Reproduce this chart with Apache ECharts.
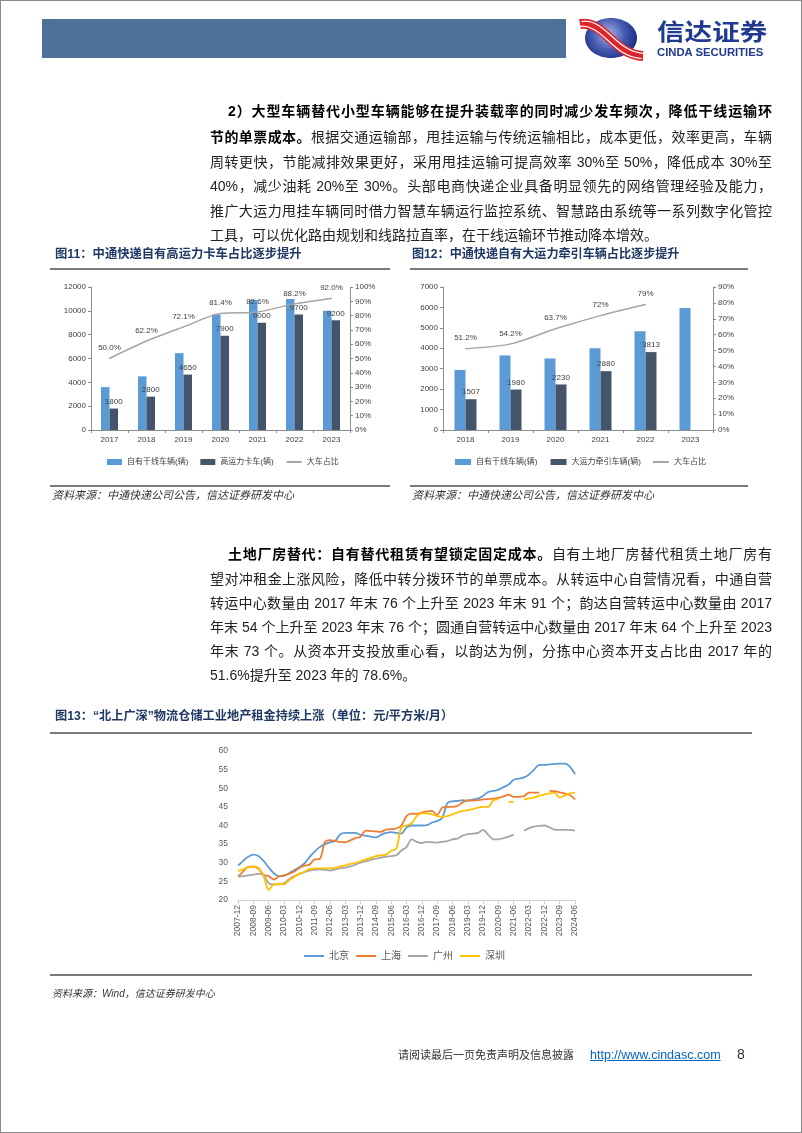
<!DOCTYPE html>
<html><head><meta charset="utf-8">
<script src="https://cdn.jsdelivr.net/npm/echarts/dist/echarts.min.js"></script>
<style>
html,body{margin:0;padding:0;background:#fff;}
#page{position:relative;width:802px;height:1133px;overflow:hidden;background:#fff;font-family:"Liberation Sans","Noto Sans CJK SC",sans-serif;}
#frame{position:absolute;left:0;top:0;width:800px;height:1131px;border:1px solid #8a8a8a;}
#chart{position:absolute;left:0;top:0;width:802px;height:1133px;}
.t{position:absolute;white-space:nowrap;}
.ln{position:absolute;left:210px;width:562px;font-size:14px;line-height:20px;height:20px;text-align:justify;text-align-last:justify;color:#222;}
.ln.ind{left:228px;width:544px;}
.ln.last{text-align-last:left;}
b{font-weight:700;color:#000;}
.ft{position:absolute;font-weight:700;color:#1f3864;white-space:nowrap;}
.rule{position:absolute;height:2px;background:#7a7a7a;}
.src{position:absolute;font-style:italic;color:#333;white-space:nowrap;}
</style></head>
<body><div id="page">
<div id="chart"></div>
<div id="frame"></div>
<div style="position:absolute;left:42px;top:19px;width:524px;height:39px;background:#4f7199;"></div>
<div class="t" style="left:657px;top:16px;font-size:23px;line-height:28px;font-weight:700;color:#1f3a8f;font-family:'Noto Sans CJK SC';transform:scaleX(1.2);transform-origin:0 0;">信达证券</div>
<div class="t" style="left:657px;top:46px;font-size:11.3px;line-height:13px;font-weight:700;color:#1f3a8f;">CINDA SECURITIES</div>

<div class="ln ind" style="top:101px;"><b>2）大型车辆替代小型车辆能够在提升装载率的同时减少发车频次，降低干线运输环</b></div>
<div class="ln" style="top:127px;"><b>节的单票成本。</b>根据交通运输部，甩挂运输与传统运输相比，成本更低，效率更高，车辆</div>
<div class="ln" style="top:152px;">周转更快，节能减排效果更好，采用甩挂运输可提高效率 30%至 50%，降低成本 30%至</div>
<div class="ln" style="top:176px;">40%，减少油耗 20%至 30%。头部电商快递企业具备明显领先的网络管理经验及能力，</div>
<div class="ln" style="top:201px;">推广大运力甩挂车辆同时借力智慧车辆运行监控系统、智慧路由系统等一系列数字化管控</div>
<div class="ln last" style="top:225px;">工具，可以优化路由规划和线路拉直率，在干线运输环节推动降本增效。</div>

<div class="ft" style="left:55px;top:246px;font-size:12.3px;line-height:16px;">图11：中通快递自有高运力卡车占比逐步提升</div>
<div class="rule" style="left:50px;top:268px;width:340px;"></div>
<div class="rule" style="left:50px;top:485px;width:340px;"></div>
<div class="src" style="left:52px;top:488px;font-size:11px;line-height:14px;">资料来源：中通快递公司公告，信达证券研发中心</div>

<div class="ft" style="left:412px;top:246px;font-size:12.1px;line-height:16px;">图12：中通快递自有大运力牵引车辆占比逐步提升</div>
<div class="rule" style="left:410px;top:268px;width:338px;"></div>
<div class="rule" style="left:410px;top:485px;width:338px;"></div>
<div class="src" style="left:412px;top:488px;font-size:11px;line-height:14px;">资料来源：中通快递公司公告，信达证券研发中心</div>

<div class="ln ind" style="top:544px;"><b>土地厂房替代：自有替代租赁有望锁定固定成本。</b>自有土地厂房替代租赁土地厂房有</div>
<div class="ln" style="top:569px;">望对冲租金上涨风险，降低中转分拨环节的单票成本。从转运中心自营情况看，中通自营</div>
<div class="ln" style="top:593px;">转运中心数量由 2017 年末 76 个上升至 2023 年末 91 个；韵达自营转运中心数量由 2017</div>
<div class="ln" style="top:617px;">年末 54 个上升至 2023 年末 76 个；圆通自营转运中心数量由 2017 年末 64 个上升至 2023</div>
<div class="ln" style="top:641px;">年末 73 个。从资本开支投放重心看，以韵达为例，分拣中心资本开支占比由 2017 年的</div>
<div class="ln last" style="top:665px;">51.6%提升至 2023 年的 78.6%。</div>

<div class="ft" style="left:55px;top:709px;font-size:12.2px;line-height:15px;">图13：“北上广深”物流仓储工业地产租金持续上涨（单位：元/平方米/月）</div>
<div class="rule" style="left:50px;top:732px;width:702px;"></div>
<div class="rule" style="left:50px;top:974px;width:702px;"></div>
<div class="src" style="left:52px;top:987px;font-size:10px;line-height:13px;">资料来源：Wind，信达证券研发中心</div>

<div class="t" style="left:398px;top:1047px;font-size:11px;line-height:16px;color:#333;">请阅读最后一页免责声明及信息披露</div>
<div class="t" style="left:590px;top:1047px;font-size:12.5px;line-height:16px;color:#0563c1;text-decoration:underline;">http://www.cindasc.com</div>
<div class="t" style="left:737px;top:1046px;font-size:14px;line-height:17px;color:#333;">8</div>
</div>
<script>
// ---- Figure 11 ----
const years11 = ['2017','2018','2019','2020','2021','2022','2023'];
const trunk11 = [3600, 4500, 6450, 9700, 10900, 11000, 10000];
const highCap11 = [1800, 2800, 4650, 7900, 9000, 9700, 9200];
const ratio11 = [50.0, 62.2, 72.1, 81.4, 82.6, 88.2, 92.0];
// ---- Figure 12 ----
const years12 = ['2018','2019','2020','2021','2022','2023'];
const trunk12 = [2940, 3650, 3500, 4000, 4830, 5970];
const tractor12 = [1507, 1980, 2230, 2880, 3813, null];
const ratio12 = [51.2, 54.2, 63.7, 72, 79, null];
// ---- Figure 13 ----
const quarters13 = ['2007-12','2008-03','2008-06','2008-09','2008-12','2009-03','2009-06','2009-09','2009-12',
 '2010-03','2010-06','2010-09','2010-12','2011-03','2011-06','2011-09','2011-12','2012-03','2012-06','2012-09','2012-12',
 '2013-03','2013-06','2013-09','2013-12','2014-03','2014-06','2014-09','2014-12','2015-03','2015-06','2015-09','2015-12',
 '2016-03','2016-06','2016-09','2016-12','2017-03','2017-06','2017-09','2017-12','2018-03','2018-06','2018-09','2018-12',
 '2019-03','2019-06','2019-09','2019-12','2020-03','2020-06','2020-09','2020-12','2021-03','2021-06','2021-09','2021-12',
 '2022-03','2022-06','2022-09','2022-12','2023-03','2023-06','2023-09','2023-12','2024-03','2024-06'];
const beijing = [29.2,30.5,31.6,32.2,31.8,30.5,28.8,27.2,26.4,26.5,27.2,28,28.8,29.8,31.5,33,34.2,35,35.5,35.8,37.6,
 38,38,38,37.5,37.3,37,36.8,37.5,38,38.2,38,37.8,39.5,40,40,40,40.1,40.8,41.2,42,46,46.5,46.6,46.8,46.6,47,47.2,48,49,49.3,
 49.6,50.3,51,52.3,52.6,52.9,53.7,55,56.3,56.3,56.4,56.5,56.6,56.6,55.8,53.8];
const shanghai = [26.3,27.6,28.9,29,28.4,26.8,26.4,25.5,26.3,26.6,27,27.6,28.6,29.2,29.5,30.9,31,35.5,36.1,35.9,35.6,
 35.5,36,36.6,37,38.6,38.5,38.4,38.3,38.9,39,39.2,40,42.5,43.2,43.1,43.5,43.8,43.9,42.8,44.8,45,45,45.3,46.2,46.8,46.7,46.8,
 47,47.1,47.2,47.4,47.8,48.3,47.7,47.7,47.9,48.8,48.8,48.8,null,49.3,49.2,48.9,48.6,48.2,47];
const guangzhou = [26.3,26.4,26.6,26.8,27,26.8,24.5,24.2,24.2,24.5,25.6,26.4,27,27.5,27.9,28.1,28.2,28.1,27.9,28.2,28.5,
 28.7,29,29.5,30,30.4,30.8,31.1,31.4,31.6,31.8,32,33.3,34.2,36.3,35.6,35.3,35.6,35.5,35.4,35.6,35.8,36.3,36.5,37.3,37.7,37.8,
 38,38.8,37.5,36.3,36.3,36.6,37,37.6,null,38.6,39.3,39.7,39.9,40,39.5,38.9,38.8,38.8,38.8,38.6];
const shenzhen = [27.8,28.2,28.8,28.9,28.6,26.5,22.7,24.2,24.3,24.2,25.3,26.2,27,27.6,28.3,28.5,28.5,28.5,28.5,28.6,29,
 29.3,29.7,30,30.4,30.9,31.3,31.8,32,32.2,33.2,33.8,39.5,40,40.6,42.5,43.3,43.2,43,42.5,42.3,42.5,43,43.5,43.9,44.1,44.4,44.8,
 45,45,46.8,47,null,46.3,46.4,null,47,47.3,47.5,48,48.3,48.6,48.8,47.5,48.1,48.6,48.9];

const AX = '#8c8c8c', LB = '#404040', FF = '"Liberation Sans","Noto Sans CJK SC",sans-serif';
function catAxis(g, data){
  return {type:'category', gridIndex:g, data, boundaryGap:true,
    axisLine:{show:true,lineStyle:{color:AX,width:1}}, axisTick:{show:true,length:3,lineStyle:{color:AX}},
    axisLabel:{fontSize:8,color:LB,margin:6,fontFamily:FF}, splitLine:{show:false}};
}
function valAxis(g, max, interval, pos, fmt){
  return {type:'value', gridIndex:g, min:0, max, interval, position:pos,
    axisLine:{show:true,lineStyle:{color:AX}}, axisTick:{show:true,length:3,lineStyle:{color:AX}},
    splitLine:{show:false}, axisLabel:{fontSize:8,color:LB,margin:5,fontFamily:FF,formatter:fmt}};
}
const plain = v => String(v);
const pct = v => v + '%';
const hide = {opacity:0};
const chart = echarts.init(document.getElementById('chart'), null, {renderer:'canvas'});
const option = {
  animation:false,
  textStyle:{fontFamily:FF},
  grid:[
    {left:91, top:287, width:259, height:143, containLabel:false},
    {left:443, top:287, width:270, height:143, containLabel:false},
    {left:238, top:751, width:337, height:149, containLabel:false}
  ],
  xAxis:[
    catAxis(0, years11),
    catAxis(1, years12),
    {type:'category', gridIndex:2, data:quarters13, boundaryGap:false,
     axisLine:{show:true,lineStyle:{color:'#d0d0d0'}},
     axisTick:{show:true,interval:2,length:4,lineStyle:{color:'#d0d0d0'}},
     axisLabel:{interval:2,rotate:90,fontSize:8.5,color:'#595959',margin:5,fontFamily:FF},
     splitLine:{show:false}}
  ],
  yAxis:[
    valAxis(0, 12000, 2000, 'left', plain),
    valAxis(0, 100, 10, 'right', pct),
    valAxis(1, 7000, 1000, 'left', plain),
    valAxis(1, 90, 10, 'right', pct),
    {type:'value', gridIndex:2, min:20, max:60, interval:5,
     axisLine:{show:false}, axisTick:{show:false}, splitLine:{show:false},
     axisLabel:{fontSize:8.5,color:'#595959',margin:10,fontFamily:FF,formatter:plain}}
  ],
  legend:[
    {left:102, top:453, itemWidth:15, itemHeight:6, itemGap:12, textStyle:{fontSize:8,color:LB,fontFamily:FF},
     data:[{name:'自有干线车辆(辆)',icon:'rect'},{name:'高运力卡车(辆)',icon:'rect'},{name:'大车占比',itemStyle:hide}]},
    {left:450, top:453, itemWidth:16, itemHeight:6, itemGap:11, textStyle:{fontSize:8,color:LB,fontFamily:FF},
     data:[{name:'自有干线车辆(辆) ',icon:'rect'},{name:'大运力牵引车辆(辆)',icon:'rect'},{name:'大车占比 ',itemStyle:hide}]},
    {left:298, top:946, itemWidth:20, itemHeight:10, itemGap:6, textStyle:{fontSize:10,color:'#595959',fontFamily:FF},
     data:[{name:'北京',itemStyle:hide},{name:'上海',itemStyle:hide},{name:'广州',itemStyle:hide},{name:'深圳',itemStyle:hide}]}
  ],
  series:[
    {name:'自有干线车辆(辆)', type:'bar', xAxisIndex:0, yAxisIndex:0, data:trunk11, barWidth:8.5, barGap:'0%',
     itemStyle:{color:'#5b9bd5'}},
    {name:'高运力卡车(辆)', type:'bar', xAxisIndex:0, yAxisIndex:0, data:highCap11, barWidth:8.5, barGap:'0%',
     itemStyle:{color:'#44546a'},
     label:{show:true,position:'top',distance:3,fontSize:8,color:LB,fontFamily:FF}},
    {name:'大车占比', type:'line', xAxisIndex:0, yAxisIndex:1, data:ratio11, smooth:0.3,
     symbol:'circle', symbolSize:1, itemStyle:{color:'#a5a5a5'}, lineStyle:{color:'#a5a5a5',width:1.5},
     label:{show:true,position:'top',distance:6,fontSize:8,color:LB,fontFamily:FF,
            formatter:p=>p.value.toFixed(1)+'%'}},
    {name:'自有干线车辆(辆) ', type:'bar', xAxisIndex:1, yAxisIndex:2, data:trunk12, barWidth:11, barGap:'0%',
     itemStyle:{color:'#5b9bd5'}},
    {name:'大运力牵引车辆(辆)', type:'bar', xAxisIndex:1, yAxisIndex:2, data:tractor12, barWidth:11, barGap:'0%',
     itemStyle:{color:'#44546a'},
     label:{show:true,position:'top',distance:3,fontSize:8,color:LB,fontFamily:FF}},
    {name:'大车占比 ', type:'line', xAxisIndex:1, yAxisIndex:3, data:ratio12, smooth:0.3,
     symbol:'circle', symbolSize:1, itemStyle:{color:'#a5a5a5'}, lineStyle:{color:'#a5a5a5',width:1.5},
     label:{show:true,position:'top',distance:6,fontSize:8,color:LB,fontFamily:FF,
            formatter:p=>p.value+'%'}},
    {name:'北京', type:'line', xAxisIndex:2, yAxisIndex:4, data:beijing, smooth:0.3, symbol:'none',
     itemStyle:{color:'#5b9bd5'}, lineStyle:{color:'#5b9bd5',width:1.8}},
    {name:'上海', type:'line', xAxisIndex:2, yAxisIndex:4, data:shanghai, smooth:0.3, symbol:'none',
     itemStyle:{color:'#ed7d31'}, lineStyle:{color:'#ed7d31',width:1.8}},
    {name:'广州', type:'line', xAxisIndex:2, yAxisIndex:4, data:guangzhou, smooth:0.3, symbol:'none',
     itemStyle:{color:'#a5a5a5'}, lineStyle:{color:'#a5a5a5',width:1.8}},
    {name:'深圳', type:'line', xAxisIndex:2, yAxisIndex:4, data:shenzhen, smooth:0.3, symbol:'none',
     itemStyle:{color:'#ffc000'}, lineStyle:{color:'#ffc000',width:1.8}}
  ],
  graphic:[
    {type:'ellipse', shape:{cx:611, cy:38, rx:26, ry:20},
     style:{fill:new echarts.graphic.RadialGradient(0.45,0.4,0.75,[{offset:0,color:'#a3b3e6'},{offset:0.55,color:'#4459b0'},{offset:1,color:'#1a2a7c'}])}},
    {type:'bezierCurve', shape:{x1:580,y1:24,cpx1:604,cpy1:20,cpx2:614,cpy2:55,x2:643,y2:56},
     style:{stroke:'#e0232b',lineWidth:10,fill:null}},
    {type:'bezierCurve', shape:{x1:581.5,y1:21.5,cpx1:605.5,cpy1:17.5,cpx2:615.5,cpy2:52.5,x2:644.5,y2:53.5},
     style:{stroke:'#ffffff',lineWidth:1.2,fill:null}},
    {type:'bezierCurve', shape:{x1:578.5,y1:26.5,cpx1:602.5,cpy1:22.5,cpx2:612.5,cpy2:57.5,x2:641.5,y2:58.5},
     style:{stroke:'#ffffff',lineWidth:1.2,fill:null}}
  ]
};
chart.setOption(option);
</script>
</body></html>
